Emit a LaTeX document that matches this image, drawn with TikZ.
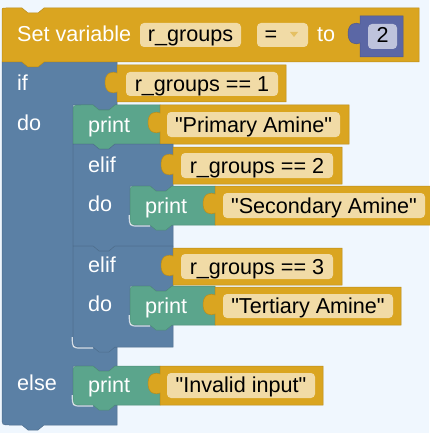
\documentclass[tikz,border=0pt]{standalone}
\usepackage{fontspec}
\setmainfont{Liberation Sans}[Ligatures=TeXOff]

\definecolor{canvas}{HTML}{F0F7FE}
\definecolor{varorange}{HTML}{DAA520}
\definecolor{fieldorange}{HTML}{F1DBA6}
\definecolor{logicblue}{HTML}{5B80A5}
\definecolor{printgreen}{HTML}{5BA58C}
\definecolor{mathpurple}{HTML}{5B67A5}
\definecolor{fieldpurple}{HTML}{BEC3DC}

\tikzset{
  vars/.style={fill=varorange, draw=varorange!85!black, line width=0.5pt},
  logic/.style={fill=logicblue, draw=logicblue!85!black, line width=0.5pt},
  printer/.style={fill=printgreen, draw=printgreen!85!black, line width=0.5pt},
  mathblk/.style={fill=mathpurple, draw=mathpurple!85!black, line width=0.5pt},
  fieldbox/.style={fill=fieldorange, rounded corners=4pt},
  shine/.style={draw=white, line width=1.2pt, opacity=0.75},
  wtext/.style={text=white, inner sep=0pt, anchor=base west, font=\fontsize{21.6}{26}\selectfont},
  btext/.style={text=black, inner sep=0pt, anchor=base, font=\fontsize{21.6}{26}\selectfont}
}

\begin{document}
\begin{tikzpicture}[x=1pt, y=-1pt]
  % Define notches, tabs and puzzle pieces
  \def\notch#1#2{-- (#1+20,#2) -- (#1+26,#2+5) -- (#1+36,#2+5) -- (#1+42,#2)}
  \def\notchback#1#2{-- (#1+42,#2) -- (#1+36,#2+5) -- (#1+26,#2+5) -- (#1+20,#2)}
  \def\puzzle#1#2{-- (#1,#2+27) .. controls (#1-4,#2+29) and (#1-12,#2+28) .. (#1-12,#2+17.5) .. controls (#1-12,#2+7) and (#1-4,#2+6) .. (#1,#2+8)}
  \def\valblock#1#2#3#4{(#1,#2) -- (#3,#2) -- (#3,#4) -- (#1,#4) \puzzle{#1}{#2} -- cycle}
  \def\shinecorner#1#2{(#1-0.7,#2-10) .. controls (#1-0.7,#2+1) .. (#1+9,#2+1) -- (#1+20,#2+1)}

  \useasboundingbox (0,0) rectangle (429,433);
  \fill[canvas] (0,0) rectangle (429,433);

  % The if / else block
  \draw[logic] (2,62) \notch{2}{62} -- (117,62) -- (117,105) \notchback{73}{105} -- (73,105)
    -- (73,347) -- (117,347) -- (117,366) \notchback{73}{366} -- (73,366) -- (73,405)
    -- (117,405) -- (117,425) \notchback{2}{425} -- (10,425) .. controls (2,425) .. (2,417) -- cycle;

  % Set variable block
  \draw[vars] (2,12) .. controls (2,8) .. (6,8) \notch{2}{8} -- (419,8) -- (419,62) \notchback{2}{62} -- (2,62) -- cycle;
  \draw[mathblk] \valblock{360}{16}{403}{57};

  % if row
  \draw[vars] \valblock{117}{65}{286}{102};
  \draw[printer] (73,113) .. controls (73,105) .. (81,105) \notch{73}{105} -- (160,105) -- (160,144) \notchback{73}{144} -- (73,144) -- cycle;
  \draw[vars] \valblock{160}{105}{349}{144};

  % first elif
  \draw[logic] (73,144) \notch{73}{144} -- (173,144) -- (173,186) \notchback{130}{186} -- (130,186)
    -- (130,225) -- (173,225) -- (173,246) \notchback{73}{246} -- (73,246) -- cycle;
  \draw[vars] \valblock{173}{147}{342}{184};
  \draw[printer] (130,194) .. controls (130,186) .. (138,186) \notch{130}{186} -- (215,186) -- (215,225) \notchback{130}{225} -- (138,225) .. controls (130,225) .. (130,217) -- cycle;
  \draw[vars] \valblock{215}{186}{431}{225};
  \draw[shine] \shinecorner{130}{225};

  % second elif
  \draw[logic] (73,246) \notch{73}{246} -- (173,246) -- (173,286) \notchback{130}{286} -- (130,286)
    -- (130,325) -- (173,325) -- (173,347) \notchback{73}{347} -- (81,347) .. controls (73,347) .. (73,339) -- cycle;
  \draw[vars] \valblock{173}{248}{342}{285};
  \draw[printer] (130,294) .. controls (130,286) .. (138,286) \notch{130}{286} -- (215,286) -- (215,325) \notchback{130}{325} -- (138,325) .. controls (130,325) .. (130,317) -- cycle;
  \draw[vars] \valblock{215}{287}{401}{325};
  \draw[shine] \shinecorner{130}{325};
  \draw[shine] \shinecorner{73}{347};

  % else row
  \draw[printer] (73,374) .. controls (73,366) .. (81,366) \notch{73}{366} -- (160,366) -- (160,405) \notchback{73}{405} -- (81,405) .. controls (73,405) .. (73,397) -- cycle;
  \draw[vars] \valblock{160}{366}{323}{405};
  \draw[shine] \shinecorner{73}{405};

  % Fields
  \fill[fieldbox] (140,23) rectangle (241,47);
  \fill[fieldbox] (257,23) rectangle (308,47);
  \fill[fieldbox, fill=fieldpurple] (368,24) rectangle (397,49);
  \fill[varorange!70!white] (290,32) -- (298,32) -- (294,37) -- cycle;
  \fill[fieldbox] (126,72) rectangle (278,96);
  \fill[fieldbox] (167,112) rectangle (340,137);
  \fill[fieldbox] (181,153) rectangle (333,178);
  \fill[fieldbox] (223,193) rectangle (425,218);
  \fill[fieldbox] (181,254) rectangle (333,279);
  \fill[fieldbox] (223,294) rectangle (393,318);
  \fill[fieldbox] (167,373) rectangle (315,398);

  % Labels on the blocks
  \node[wtext] (setvar) at (17,42) {Set variable};
  \node[wtext] (to) at (317,42) {to};
  \node[wtext] (if) at (17,91) {if};
  \node[wtext] (do) at (17,130) {do};
  \node[wtext] (print1) at (88,132) {print};
  \node[wtext] (elif1) at (88,172) {elif};
  \node[wtext] (do1) at (88,211) {do};
  \node[wtext] (print2) at (145,213) {print};
  \node[wtext] (elif2) at (88,272) {elif};
  \node[wtext] (do2) at (88,311) {do};
  \node[wtext] (print3) at (145,313) {print};
  \node[wtext] (else) at (17,390) {else};
  \node[wtext] (print4) at (88,392) {print};

  % Texts in the fields
  \node[btext] (varname) at (190.5,42) {r\_groups};
  \node[btext] (op) at (271,42) {=};
  \node[btext] (two) at (382.5,43) {2};
  \node[btext] (cond1) at (202,92) {r\_groups == 1};
  \node[btext] (primary) at (253.5,132) {"Primary Amine"};
  \node[btext] (cond2) at (257,173) {r\_groups == 2};
  \node[btext] (secondary) at (324,213) {"Secondary Amine"};
  \node[btext] (cond3) at (257,274) {r\_groups == 3};
  \node[btext] (tertiary) at (308,313) {"Tertiary Amine"};
  \node[btext] (invalid) at (241,392) {"Invalid input"};
\end{tikzpicture}
\end{document}
